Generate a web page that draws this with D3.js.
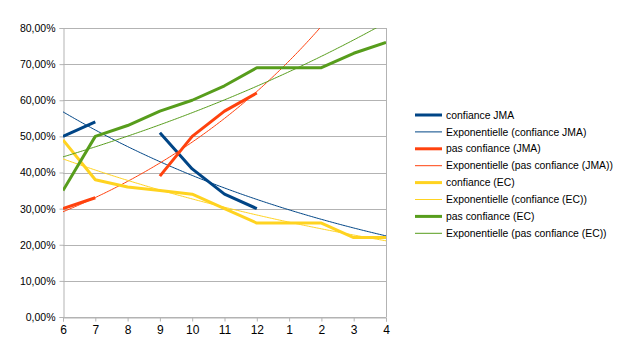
<!DOCTYPE html>
<html><head><meta charset="utf-8">
<script src="https://cdn.jsdelivr.net/npm/d3@7"></script>
<style>body{margin:0;background:#fff}svg{display:block;font-family:"Liberation Sans",Arial,sans-serif}</style>
</head><body><svg id="c" width="620" height="355"></svg>
<script>
const categories = ["6","7","8","9","10","11","12","1","2","3","4"];
const confianceJMA = [0.50,0.54,null,0.51,0.41,0.34,0.30,null,null,null,null];
const pasConfianceJMA = [0.30,0.33,null,0.39,0.50,0.57,0.62,null,null,null,null];
const confianceEC = [0.49,0.38,0.36,0.35,0.34,0.30,0.26,0.26,0.26,0.22,0.22];
const pasConfianceEC = [0.35,0.50,0.53,0.57,0.60,0.64,0.69,0.69,0.69,0.73,0.76];
const yTicks = [0,0.1,0.2,0.3,0.4,0.5,0.6,0.7,0.8];

const series = [
  {name:"confiance JMA", trendName:"Exponentielle (confiance JMA)", values:confianceJMA, color:"#004586"},
  {name:"pas confiance (JMA)", trendName:"Exponentielle (pas confiance (JMA))", values:pasConfianceJMA, color:"#ff420e"},
  {name:"confiance (EC)", trendName:"Exponentielle (confiance (EC))", values:confianceEC, color:"#ffd320"},
  {name:"pas confiance (EC)", trendName:"Exponentielle (pas confiance (EC))", values:pasConfianceEC, color:"#579d1c"}
];

const svg = d3.select("#c");
const L=63,R=386,T=28,B=317;
const x = d3.scaleLinear().domain([0,categories.length-1]).range([L,R]);
const y = d3.scaleLinear().domain([0,0.8]).range([B,T]);
const fmt = v => d3.format(".2f")(v*100).replace(".",",")+"%";

// grid
svg.append("g").selectAll("line").data(yTicks).join("line")
  .attr("x1",L).attr("x2",R).attr("y1",d=>Math.round(y(d))+0.5).attr("y2",d=>Math.round(y(d))+0.5)
  .attr("stroke","#b3b3b3").attr("stroke-width",1);
svg.append("line").attr("x1",R+0.5).attr("x2",R+0.5).attr("y1",T).attr("y2",B).attr("stroke","#b3b3b3");

// axes
const ya = svg.append("g").attr("transform",`translate(${L+0.5},0)`)
  .call(d3.axisLeft(y).tickValues(yTicks).tickFormat(fmt).tickSize(4).tickPadding(4));
const xa = svg.append("g").attr("transform",`translate(0,${B+0.5})`)
  .call(d3.axisBottom(x).tickValues(d3.range(categories.length)).tickFormat(i=>categories[i]).tickSize(4).tickPadding(4));
[ya,xa].forEach(g=>{
  g.select(".domain").attr("stroke","#b3b3b3");
  g.selectAll(".tick line").attr("stroke","#b3b3b3");
  g.selectAll("text").attr("fill","#000").style("font-family","'Liberation Sans',Arial,sans-serif");
});
ya.selectAll("text").style("font-size","10.5px");
xa.selectAll("text").style("font-size","12px");

svg.append("clipPath").attr("id","clip").append("rect").attr("x",L).attr("y",T).attr("width",R-L).attr("height",B-T);
const plot = svg.append("g").attr("clip-path","url(#clip)");

// exponential trend via least squares on ln(y)
function expFit(vals){
  const pts = vals.map((v,i)=>[i+1,v]).filter(p=>p[1]!=null);
  const mx=d3.mean(pts,p=>p[0]), my=d3.mean(pts,p=>Math.log(p[1]));
  let sxy=0,sxx=0;
  pts.forEach(p=>{sxy+=(p[0]-mx)*(Math.log(p[1])-my);sxx+=(p[0]-mx)**2;});
  const b=sxy/sxx, a=my-b*mx;
  return t=>Math.exp(a+b*(t+1));
}
const line = d3.line().defined(d=>d[1]!=null).x(d=>x(d[0])).y(d=>y(d[1]));
const samples = d3.range(0,categories.length-1+0.0001,0.05);

series.forEach(s=>{ s.trend = expFit(s.values); });
series.forEach(s=>{
  plot.append("path").attr("d",line(s.values.map((v,i)=>[i,v])))
    .attr("fill","none").attr("stroke",s.color).attr("stroke-width",3).attr("stroke-linejoin","round");
  plot.append("path").attr("d",line(samples.map(t=>[t,s.trend(t)])))
    .attr("fill","none").attr("stroke",s.color).attr("stroke-width",1);
});

// legend
const leg = svg.append("g");
const items=[];
series.forEach(s=>{
  items.push({label:s.name,color:s.color,w:3});
  items.push({label:s.trendName,color:s.color,w:1});
});
items.forEach((it,i)=>{
  const yy = 115 + i*16.9;
  leg.append("line").attr("x1",415).attr("x2",442).attr("y1",yy).attr("y2",yy)
    .attr("stroke",it.color).attr("stroke-width",it.w);
  leg.append("text").attr("x",446).attr("y",yy).attr("dy","0.35em")
    .style("font-size","10.4px").attr("fill","#000").text(it.label);
});
</script></body></html>
